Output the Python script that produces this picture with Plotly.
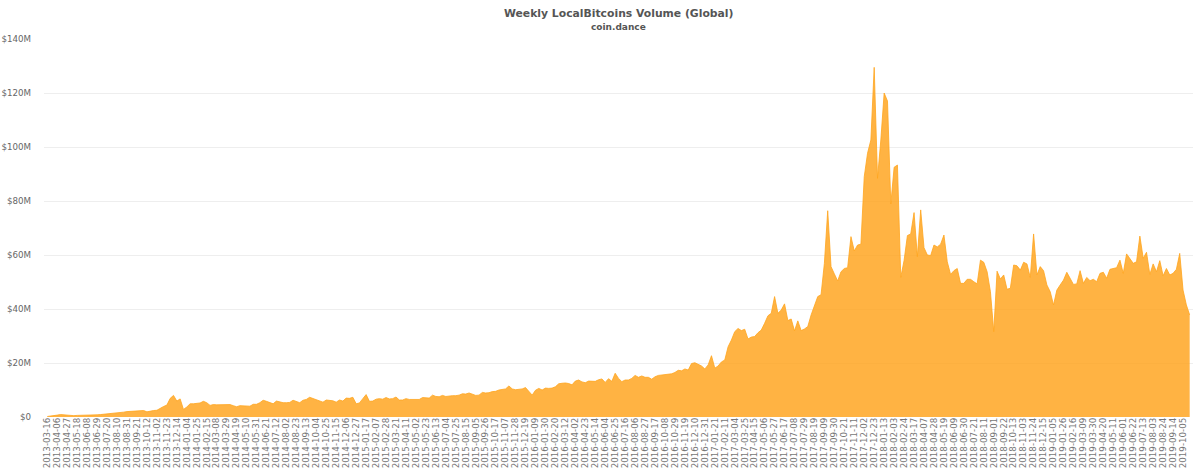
import pandas as pd
import plotly.graph_objects as go

# weekly volume in $M
volume_2013 = [0.2, 0.3, 0.4, 0.7, 0.9, 0.8, 0.6, 0.5, 0.5, 0.6,
               0.6, 0.7, 0.7, 0.6, 0.7, 0.8, 0.9, 1.0, 1.1, 1.2,
               1.3, 1.4, 1.6, 1.8, 2.0, 2.1, 2.2, 2.3, 2.5, 2.4,
               1.9, 2.2, 2.4, 2.5, 3.3, 3.9, 4.4, 6.9, 8.0, 5.9,
               6.7, 2.8]
volume_2014 = [3.7, 4.9, 4.9, 5.1, 5.2, 5.8, 5.3, 4.3, 4.6, 4.5,
               4.5, 4.5, 4.5, 4.6, 4.2, 3.8, 4.2, 4.2, 4.2, 4.0,
               4.7, 4.7, 5.3, 6.2, 5.8, 5.3, 4.9, 5.9,
               5.5, 5.3, 5.3, 5.4, 6.2, 5.8, 5.3, 6.2, 6.5, 7.3,
               6.8, 6.6, 6.0, 5.5, 6.3, 6.1, 6.0, 5.5, 6.3, 5.9,
               7.0, 6.9, 7.3, 4.9]
volume_2015 = [5.2, 6.8, 8.3, 5.8, 5.9, 6.6,
               6.8, 6.6, 7.2, 6.7, 6.8, 7.4,
               6.3, 6.3, 6.8, 6.5, 6.5, 6.5, 6.5, 7.2, 7.0, 7.0,
               8.1, 7.6, 7.5, 8.0, 7.6, 7.8, 7.9, 7.9, 8.1, 8.6,
               8.5, 8.9, 8.3, 8.0, 8.1, 9.1, 8.9, 9.0, 9.4, 9.5,
               10.0, 10.1, 10.4, 11.5, 10.4, 10.1, 10.2, 10.4, 10.9, 9.4]
volume_2016 = [8.1, 9.9, 10.6, 10.0, 10.7, 10.6, 10.7, 11.2,
               12.3, 12.5, 12.6, 12.4, 11.9, 13.3, 13.7, 13.0, 12.7, 13.3,
               13.2, 13.2, 13.8, 14.1, 12.8, 14.2, 13.2, 16.2, 14.3, 13.1,
               13.7, 13.7, 14.3, 15.4, 14.7, 15.2, 14.7, 14.7, 14.0, 14.9,
               15.4, 15.5, 15.8, 15.9, 16.0, 16.5, 17.3, 17.1, 17.8, 17.4,
               19.8, 20.1, 19.6, 18.9, 17.8]
volume_2017 = [19.3, 22.7, 18.1, 18.9, 20.4, 21.1,
               26.0, 28.5, 31.6, 32.8, 32.0, 32.5, 28.9, 29.6, 29.8, 31.2,
               32.2, 34.7, 37.5, 38.4, 44.6, 38.4, 39.6, 41.9, 35.7, 36.3,
               31.9, 35.6, 32.0, 32.6, 33.5, 37.8, 41.5, 44.6, 45.3, 56.9,
               76.4, 55.7, 53.0, 50.4, 53.8, 55.0, 55.3, 66.8, 61.5, 63.7,
               64.0, 89.0, 97.7, 102.6, 129.5, 88.4]
volume_2018 = [102.6, 120.0, 117.0, 78.9, 92.5, 93.3, 51.7, 58.0, 67.2, 67.8,
               75.7, 59.4, 76.7, 62.7, 60.0, 59.8, 63.7, 63.0, 64.0, 67.4,
               57.5, 52.8, 54.2, 55.0, 49.5, 49.5, 51.0, 51.0, 50.1, 49.3,
               58.1, 57.3, 53.8, 46.4, 31.6, 54.0, 51.1, 52.6, 47.3, 47.7,
               56.3, 56.0, 54.4, 57.3, 56.7, 51.7, 67.8, 52.6, 55.7, 54.2,
               48.9, 46.4]
volume_2019 = [41.5, 47.0, 48.9, 50.7, 53.6, 51.4, 49.1, 49.3,
               54.2, 49.5, 51.7, 50.5, 51.0, 50.1, 53.2, 53.6, 51.4, 54.7,
               55.0, 55.3, 58.1, 53.2, 60.4, 58.8, 56.9, 57.5, 67.0, 58.8,
               61.0, 52.8, 56.7, 53.8, 57.9, 52.3, 55.0, 52.6, 53.2, 54.7,
               60.6, 47.0, 41.5, 37.8]

y_ticks = [0, 20, 40, 60, 80, 100, 120, 140]
y_labels = ['$0', '$20M', '$40M', '$60M', '$80M', '$100M', '$120M', '$140M']

volume = volume_2013 + volume_2014 + volume_2015 + volume_2016 + volume_2017 + volume_2018 + volume_2019
weeks = pd.date_range('2013-03-16', periods=len(volume), freq='7D').strftime('%Y-%m-%d').tolist()

fig = go.Figure()
fig.add_trace(go.Scatter(x=weeks, y=volume, mode='lines', fill='tozeroy',
                         line=dict(color='rgba(255,165,30,0.8)', width=1),
                         fillcolor='rgba(255,160,20,0.8)',
                         name='Volume'))

fig.update_layout(
    width=1200, height=474,
    margin=dict(l=44, r=7, t=39, b=57, autoexpand=False),
    paper_bgcolor='white', plot_bgcolor='white',
    showlegend=False,
    font=dict(family='DejaVu Sans', color='#666666', size=9),
    annotations=[
        dict(text='<b>Weekly LocalBitcoins Volume (Global)</b>', xref='paper', yref='paper',
             x=0.5, y=1.067, xanchor='center', yanchor='middle', showarrow=False,
             font=dict(size=10.8, color='#555555')),
        dict(text='<b>coin.dance</b>', xref='paper', yref='paper',
             x=0.5, y=1.032, xanchor='center', yanchor='middle', showarrow=False,
             font=dict(size=9, color='#555555')),
    ],
)
fig.update_xaxes(type='category', categoryorder='array', categoryarray=weeks,
                 range=[-1, len(volume)], tickmode='array', tickvals=weeks[::3], ticktext=weeks[::3],
                 tickangle=-90, showgrid=False, showline=False, ticks='', zeroline=False,
                 automargin=False, ticklabelstandoff=-2,
                 tickfont=dict(size=8.7, color='#777777'))
fig.update_yaxes(range=[0, 140], tickmode='array', tickvals=y_ticks, ticktext=y_labels,
                 gridcolor='#eeeeee', gridwidth=1, zeroline=False, showline=False, ticks='',
                 automargin=False, ticklabelstandoff=12,
                 tickfont=dict(size=8.7, color='#666666'))

# drop the page's default body margin so the figure fills the window
fig.write_html("out.html", config=dict(displayModeBar=False),
               post_script="document.body.style.margin='0';")
